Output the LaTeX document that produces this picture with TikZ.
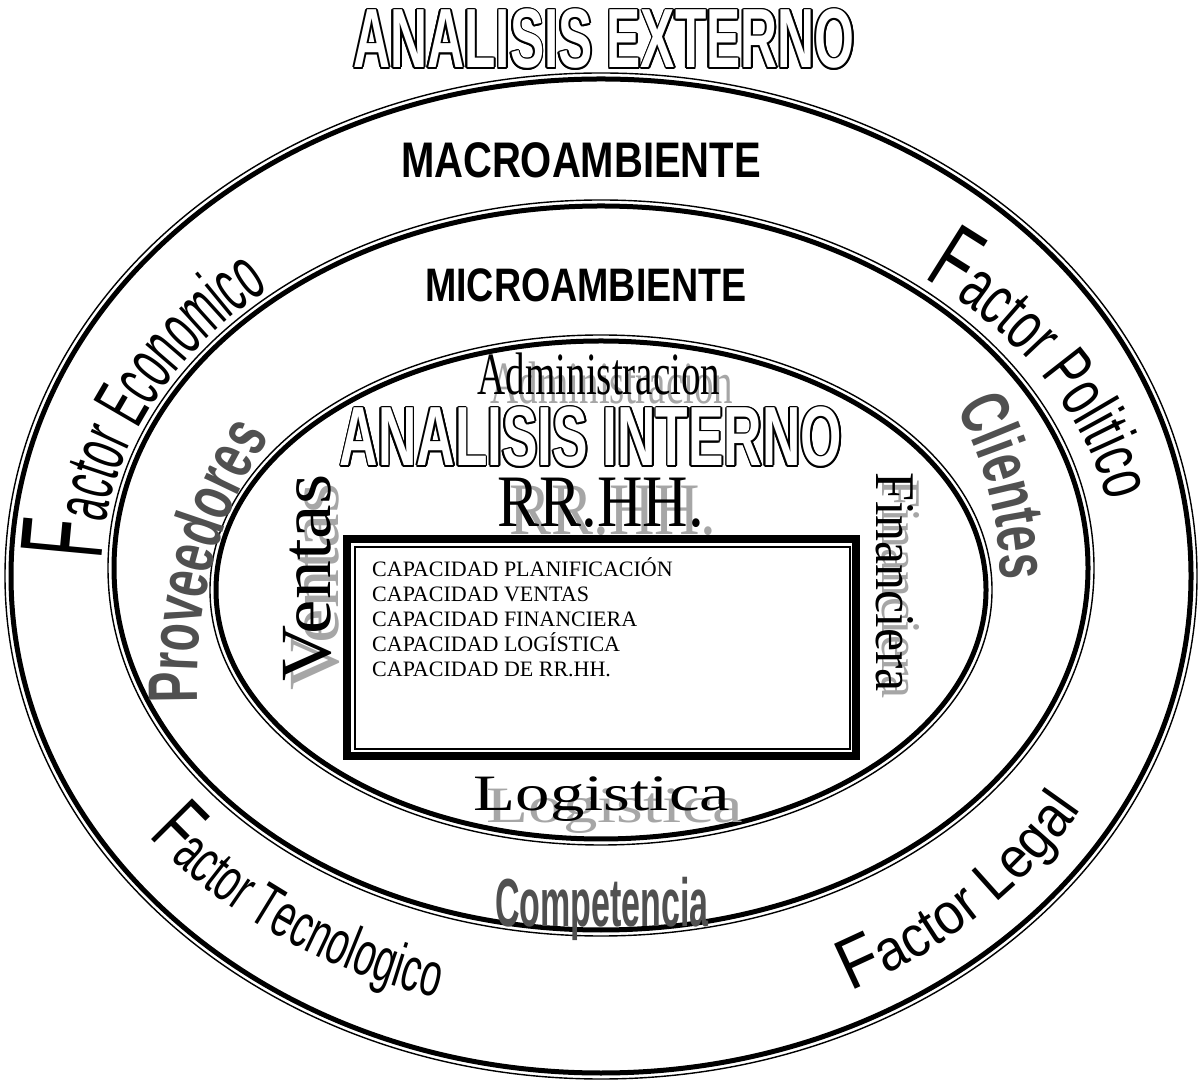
\documentclass[tikz,border=0pt]{standalone}
\usepackage{fontspec}
\setmainfont{Liberation Serif}
\newfontfamily\arialf{Liberation Sans}
\newfontfamily\nA[FakeStretch=0.52]{Liberation Sans}
\newfontfamily\nB[FakeStretch=0.65]{Liberation Sans}
\newfontfamily\nC[FakeStretch=0.9]{Liberation Sans}
\newfontfamily\nD[FakeStretch=0.62]{Liberation Sans}
\newfontfamily\nE[FakeStretch=0.66]{Liberation Sans}
\usetikzlibrary{decorations.text}
\definecolor{shadowgrey}{HTML}{A6A6A6}
\definecolor{darkgrey}{HTML}{505050}
\newcommand\fEcoF{\nA\fontsize{118}{118}\selectfont}
\newcommand\fEco{\nA\fontsize{76}{76}\selectfont}
\newcommand\fPolF{\nB\fontsize{95}{95}\selectfont}
\newcommand\fPol{\nB\fontsize{70}{70}\selectfont}
\newcommand\fLegF{\nC\fontsize{72}{72}\selectfont}
\newcommand\fLeg{\nC\fontsize{58}{58}\selectfont}
\newcommand\fTecF{\nD\fontsize{84}{84}\selectfont}
\newcommand\fTec{\nD\fontsize{62}{62}\selectfont}
\newcommand\fProv{\nE\bfseries\fontsize{70}{70}\selectfont}
\tikzset{
  thickl/.style={line width=5pt},
  thinl/.style={line width=1.4pt},
  outl/.style={font=\arialf\bfseries\fontsize{84}{84}\selectfont, anchor=base, inner sep=0pt},
  macro/.style={font=\arialf\bfseries\fontsize{50}{50}\selectfont, xscale=0.8, anchor=base, inner sep=0pt},
  micro/.style={font=\arialf\bfseries\fontsize{47}{47}\selectfont, xscale=0.8, anchor=base, inner sep=0pt},
  adm/.style={font=\fontsize{60}{60}\selectfont, xscale=0.65, anchor=base, inner sep=0pt},
  rrhh/.style={font=\fontsize{74}{74}\selectfont, xscale=0.85, anchor=base, inner sep=0pt},
  logi/.style={font=\fontsize{51}{51}\selectfont, xscale=1.35, anchor=base, inner sep=0pt},
  ventas/.style={font=\fontsize{72}{72}\selectfont, rotate=90, xscale=1.08, anchor=base, inner sep=0pt},
  finan/.style={font=\fontsize{56}{56}\selectfont, rotate=-90, xscale=0.93, anchor=base, inner sep=0pt},
  boxtxt/.style={font=\fontsize{22}{22}\selectfont, anchor=base west, inner sep=0pt},
  compet/.style={font=\arialf\bfseries\fontsize{68}{68}\selectfont, xscale=0.5, anchor=base, inner sep=0pt, text=darkgrey},
  shad/.style={text=shadowgrey}
}
\begin{document}
\begin{tikzpicture}[x=1pt,y=1pt]
\useasboundingbox (0,0) rectangle (1198,1081);
\fill[white] (0,0) rectangle (1198,1081);
\coordinate (oc) at (601,505);
\coordinate (mc) at (601,513);
\coordinate (ic) at (601,491);
% ellipses: thick inside, thin outside
\draw[thickl] (oc) ellipse [x radius=590pt, y radius=497pt];
\draw[thinl] (oc) ellipse [x radius=596pt, y radius=503pt];
\draw[thickl] (mc) ellipse [x radius=487pt, y radius=362pt];
\draw[thinl] (mc) ellipse [x radius=493pt, y radius=368pt];
\draw[thickl] (ic) ellipse [x radius=385pt, y radius=249pt];
\draw[thinl] (ic) ellipse [x radius=391pt, y radius=255pt];
% capacity box
\draw[line width=8pt] (347,325) rectangle (856,542);
\draw[line width=1.5pt] (355,332) rectangle (850,534);
\node[boxtxt] (c1) at (372,504) {CAPACIDAD PLANIFICACIÓN};
\node[boxtxt] (c2) at (372,479) {CAPACIDAD VENTAS};
\node[boxtxt] (c3) at (372,454) {CAPACIDAD FINANCIERA};
\node[boxtxt] (c4) at (372,429) {CAPACIDAD LOGÍSTICA};
\node[boxtxt] (c5) at (372,404) {CAPACIDAD DE RR.HH.};
% outlined titles
\foreach \a in {0,30,...,330}{
  \node[outl, text=black, shift={(\a:1.7pt)}, xscale=0.61] (extc\a) at (604,1013) {ANALISIS EXTERNO};
  \node[outl, text=black, shift={(\a:1.7pt)}, xscale=0.633] (intc\a) at (591,615) {ANALISIS INTERNO};
}
\node[outl, text=white, xscale=0.61] (ext) at (604,1013) {ANALISIS EXTERNO};
\node[outl, text=white, xscale=0.633] (int) at (591,615) {ANALISIS INTERNO};
% ring headings
\node[macro] (macro) at (581,903) {MACROAMBIENTE};
\node[micro] (micro) at (586,779) {MICROAMBIENTE};
% shadowed serif words
\node[adm, shad] (admS) at (612,677) {Administracion};
\node[adm] (adm) at (599,686) {Administracion};
\node[rrhh, shad] (rrhhS) at (613,546) {RR.HH.};
\node[rrhh] (rrhh) at (601,554) {RR.HH.};
\node[logi, shad] (logiS) at (615,258) {Logistica};
\node[logi] (logi) at (602,270) {Logistica};
\node[ventas, shad] (ventasS) at (338,494) {Ventas};
\node[ventas] (ventas) at (330,503) {Ventas};
\node[finan, shad] (finS) at (882,492) {Financiera};
\node[finan] (fin) at (876,499) {Financiera};
\node[compet] (comp) at (602,154) {Competencia};
% curved factor labels
\path[shift={(601,513)}, decorate, decoration={text along path, text align=center,
  text={|\fEcoF|F|\fEco|actor Economico}}]
  (209:499pt and 374pt) arc[start angle=209, end angle=107, x radius=499pt, y radius=374pt];
\path[shift={(601,513)}, decorate, decoration={text along path, text align=center,
  text={|\fPolF|F|\fPol|actor Politico}}]
  (77:515pt and 372pt) arc[start angle=77, end angle=-23, x radius=515pt, y radius=372pt];
\path[shift={(601,505)}, decorate, decoration={text along path, text align=center,
  text={|\fLegF|F|\fLeg|actor Legal}}]
  (-85:555pt and 465pt) arc[start angle=-85, end angle=-5, x radius=555pt, y radius=465pt];
\path[shift={(601,505)}, decorate, decoration={text along path, text align=center,
  text={|\fTecF|F|\fTec|actor Tecnologico}}]
  (-173:560pt and 441pt) arc[start angle=-173, end angle=-83, x radius=560pt, y radius=441pt];
\path[shift={(588,400)}, decorate, decoration={text along path, text align=center, text color=darkgrey,
  text={|\fProv|Proveedores}}]
  (223:391pt and 419pt) arc[start angle=223, end angle=103, x radius=391pt, y radius=419pt];
\path[shift={(601,495)}, decorate, decoration={text along path, text align=center, text color=darkgrey,
  text={|\fProv|Clientes}}]
  (54:400pt and 387pt) arc[start angle=54, end angle=-26, x radius=400pt, y radius=387pt];
\end{tikzpicture}
\end{document}
